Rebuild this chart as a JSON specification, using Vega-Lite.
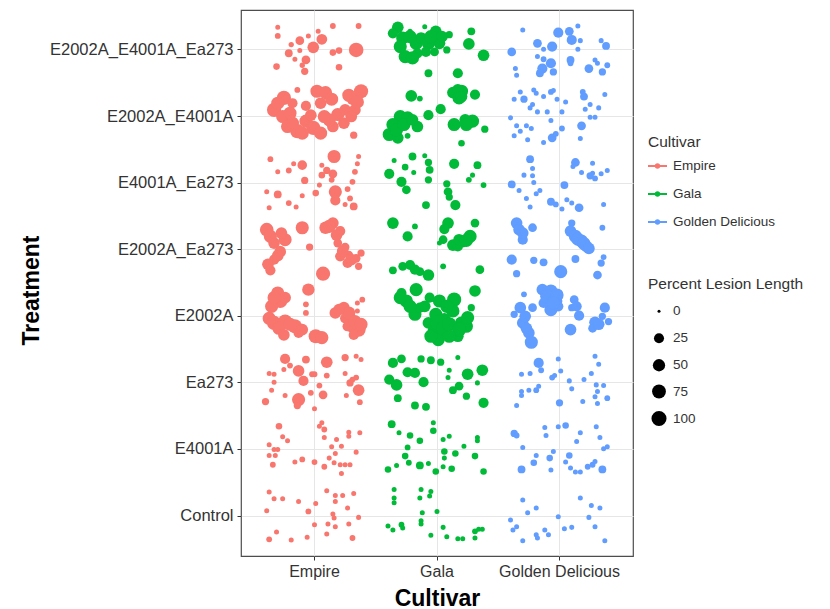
{
"$schema":"https://vega.github.io/schema/vega-lite/v6.json",
"width":392,"height":546,
"autosize":{"type":"none"},
"padding":{"left":241,"top":10,"right":197,"bottom":53},
"background":"white",
"config":{"font":"Liberation Sans","view":{"stroke":"#4d4d4d","strokeWidth":1.2}},
"datasets":{
"cult":[{"c":1,"Cultivar":"Empire"},{"c":2,"Cultivar":"Gala"},{"c":3,"Cultivar":"Golden Delicious"}],
"treat":[{"t":1,"Treatment":"E2002A_E4001A_Ea273"},{"t":2,"Treatment":"E2002A_E4001A"},{"t":3,"Treatment":"E4001A_Ea273"},{"t":4,"Treatment":"E2002A_Ea273"},{"t":5,"Treatment":"E2002A"},{"t":6,"Treatment":"Ea273"},{"t":7,"Treatment":"E4001A"},{"t":8,"Treatment":"Control"}],
"pts":[
{"c":1,"t":1,"x":-0.30,"y":-0.34,"v":1.5},{"c":1,"t":1,"x":-0.30,"y":-0.21,"v":3},{"c":1,"t":1,"x":0.15,"y":-0.36,"v":3},{"c":1,"t":1,"x":0.36,"y":-0.36,"v":3},{"c":1,"t":1,"x":-0.19,"y":-0.08,"v":2},{"c":1,"t":1,"x":-0.12,"y":-0.14,"v":15},{"c":1,"t":1,"x":-0.05,"y":-0.21,"v":1.5},{"c":1,"t":1,"x":-0.01,"y":-0.04,"v":42},{"c":1,"t":1,"x":0.06,"y":-0.16,"v":32},{"c":1,"t":1,"x":0.03,"y":-0.28,"v":1.5},{"c":1,"t":1,"x":-0.21,"y":0.05,"v":10},{"c":1,"t":1,"x":-0.16,"y":0.14,"v":1.5},{"c":1,"t":1,"x":-0.07,"y":0.15,"v":15},{"c":1,"t":1,"x":-0.10,"y":0.23,"v":2},{"c":1,"t":1,"x":-0.08,"y":0.32,"v":7.5},{"c":1,"t":1,"x":-0.31,"y":0.25,"v":5},{"c":1,"t":1,"x":0.15,"y":0.04,"v":5},{"c":1,"t":1,"x":0.20,"y":0.01,"v":5},{"c":1,"t":1,"x":0.20,"y":0.26,"v":5},{"c":1,"t":1,"x":0.34,"y":0,"v":90},{"c":1,"t":1,"x":-0.12,"y":0.01,"v":1.5},
{"c":1,"t":2,"x":-0.33,"y":-0.10,"v":82},{"c":1,"t":2,"x":-0.25,"y":-0.28,"v":82},{"c":1,"t":2,"x":-0.26,"y":0,"v":63},{"c":1,"t":2,"x":-0.18,"y":0.10,"v":63},{"c":1,"t":2,"x":-0.14,"y":0.22,"v":82},{"c":1,"t":2,"x":-0.07,"y":0.07,"v":63},{"c":1,"t":2,"x":-0.01,"y":0.17,"v":82},{"c":1,"t":2,"x":0.02,"y":-0.38,"v":63},{"c":1,"t":2,"x":0.09,"y":-0.36,"v":63},{"c":1,"t":2,"x":0.14,"y":-0.26,"v":63},{"c":1,"t":2,"x":0.08,"y":0,"v":63},{"c":1,"t":2,"x":0.19,"y":-0.03,"v":63},{"c":1,"t":2,"x":0.25,"y":-0.10,"v":42},{"c":1,"t":2,"x":0.31,"y":-0.26,"v":42},{"c":1,"t":2,"x":0.38,"y":-0.38,"v":82},{"c":1,"t":2,"x":0.33,"y":-0.10,"v":42},{"c":1,"t":2,"x":0.24,"y":0.10,"v":42},{"c":1,"t":2,"x":-0.07,"y":-0.16,"v":26},{"c":1,"t":2,"x":-0.14,"y":-0.40,"v":3},{"c":1,"t":2,"x":0.32,"y":0.28,"v":7.5},{"c":1,"t":2,"x":-0.18,"y":-0.20,"v":26},{"c":1,"t":2,"x":0.15,"y":0.15,"v":42},
{"c":1,"t":2,"x":-0.30,"y":-0.20,"v":63},{"c":1,"t":2,"x":-0.20,"y":-0.05,"v":63},{"c":1,"t":2,"x":-0.10,"y":0.25,"v":63},{"c":1,"t":2,"x":0.05,"y":0.25,"v":63},{"c":1,"t":2,"x":0.05,"y":-0.20,"v":42},{"c":1,"t":2,"x":0.28,"y":-0.32,"v":63},{"c":1,"t":2,"x":0.35,"y":-0.22,"v":63},{"c":1,"t":2,"x":0.30,"y":0,"v":42},{"c":1,"t":2,"x":-0.22,"y":0.15,"v":63},{"c":1,"t":2,"x":0.12,"y":0.05,"v":63},{"c":1,"t":2,"x":-0.03,"y":-0.02,"v":42},
{"c":1,"t":3,"x":-0.36,"y":-0.36,"v":3},{"c":1,"t":3,"x":-0.30,"y":-0.17,"v":1.5},{"c":1,"t":3,"x":-0.21,"y":-0.19,"v":3},{"c":1,"t":3,"x":-0.17,"y":-0.29,"v":1.5},{"c":1,"t":3,"x":-0.10,"y":-0.27,"v":21},{"c":1,"t":3,"x":-0.08,"y":-0.04,"v":7.5},{"c":1,"t":3,"x":-0.39,"y":0.13,"v":1.5},{"c":1,"t":3,"x":-0.30,"y":0.17,"v":10},{"c":1,"t":3,"x":-0.21,"y":0.30,"v":3},{"c":1,"t":3,"x":-0.37,"y":0.37,"v":1.5},{"c":1,"t":3,"x":-0.15,"y":0.36,"v":1.5},{"c":1,"t":3,"x":-0.10,"y":0.19,"v":1.5},{"c":1,"t":3,"x":0.01,"y":0.15,"v":5},{"c":1,"t":3,"x":0.04,"y":0.03,"v":1.5},{"c":1,"t":3,"x":0.06,"y":-0.12,"v":5},{"c":1,"t":3,"x":0.06,"y":-0.27,"v":1.5},{"c":1,"t":3,"x":0.10,"y":-0.19,"v":7.5},{"c":1,"t":3,"x":0.16,"y":-0.40,"v":63},{"c":1,"t":3,"x":0.14,"y":-0.05,"v":3},{"c":1,"t":3,"x":0.17,"y":0.13,"v":63},{"c":1,"t":3,"x":0.27,"y":0.09,"v":3},{"c":1,"t":3,"x":0.31,"y":-0.02,"v":3},{"c":1,"t":3,"x":0.33,"y":-0.17,"v":3},{"c":1,"t":3,"x":0.35,"y":-0.29,"v":1.5},{"c":1,"t":3,"x":0.36,"y":-0.40,"v":1.5},{"c":1,"t":3,"x":0.29,"y":0.23,"v":3},{"c":1,"t":3,"x":0.32,"y":0.35,"v":10},{"c":1,"t":3,"x":0.25,"y":0.32,"v":1.5},{"c":1,"t":3,"x":0.15,"y":-0.14,"v":15},{"c":1,"t":3,"x":0.17,"y":0.26,"v":26},
{"c":1,"t":4,"x":-0.39,"y":-0.30,"v":73},{"c":1,"t":4,"x":-0.33,"y":-0.10,"v":42},{"c":1,"t":4,"x":-0.24,"y":-0.15,"v":63},{"c":1,"t":4,"x":-0.28,"y":0.03,"v":42},{"c":1,"t":4,"x":-0.33,"y":0.15,"v":26},{"c":1,"t":4,"x":-0.36,"y":0.31,"v":26},{"c":1,"t":4,"x":-0.10,"y":-0.33,"v":63},{"c":1,"t":4,"x":-0.04,"y":-0.04,"v":7.5},{"c":1,"t":4,"x":0.09,"y":-0.33,"v":52},{"c":1,"t":4,"x":0.15,"y":-0.40,"v":42},{"c":1,"t":4,"x":0.21,"y":-0.28,"v":26},{"c":1,"t":4,"x":0.19,"y":-0.10,"v":15},{"c":1,"t":4,"x":0.25,"y":-0.04,"v":15},{"c":1,"t":4,"x":0.21,"y":0.10,"v":26},{"c":1,"t":4,"x":0.27,"y":0.20,"v":26},{"c":1,"t":4,"x":0.34,"y":0.13,"v":15},{"c":1,"t":4,"x":0.38,"y":0.05,"v":7.5},{"c":1,"t":4,"x":0.36,"y":0.25,"v":7.5},{"c":1,"t":4,"x":0.07,"y":0.36,"v":82},{"c":1,"t":4,"x":0.28,"y":0.08,"v":15},
{"c":1,"t":4,"x":-0.36,"y":-0.20,"v":63},{"c":1,"t":4,"x":-0.30,"y":0.09,"v":42},{"c":1,"t":4,"x":-0.38,"y":0.22,"v":42},{"c":1,"t":4,"x":0.12,"y":-0.35,"v":63},{"c":1,"t":4,"x":0.18,"y":-0.22,"v":42},{"c":1,"t":4,"x":0.23,"y":0.02,"v":42},{"c":1,"t":4,"x":0.30,"y":0.15,"v":42},{"c":1,"t":4,"x":-0.27,"y":-0.25,"v":42},
{"c":1,"t":5,"x":-0.30,"y":-0.35,"v":63},{"c":1,"t":5,"x":-0.28,"y":-0.23,"v":82},{"c":1,"t":5,"x":-0.35,"y":-0.15,"v":63},{"c":1,"t":5,"x":-0.24,"y":-0.28,"v":42},{"c":1,"t":5,"x":-0.33,"y":0.10,"v":82},{"c":1,"t":5,"x":-0.24,"y":0.08,"v":82},{"c":1,"t":5,"x":-0.16,"y":0.15,"v":82},{"c":1,"t":5,"x":-0.29,"y":0.18,"v":63},{"c":1,"t":5,"x":-0.13,"y":0.25,"v":26},{"c":1,"t":5,"x":-0.05,"y":-0.40,"v":52},{"c":1,"t":5,"x":-0.07,"y":-0.18,"v":3},{"c":1,"t":5,"x":-0.07,"y":-0.05,"v":3},{"c":1,"t":5,"x":0.01,"y":0.30,"v":82},{"c":1,"t":5,"x":0.17,"y":-0.05,"v":42},{"c":1,"t":5,"x":0.24,"y":-0.13,"v":42},{"c":1,"t":5,"x":0.25,"y":0.03,"v":26},{"c":1,"t":5,"x":0.31,"y":0.15,"v":63},{"c":1,"t":5,"x":0.36,"y":0.20,"v":82},{"c":1,"t":5,"x":0.32,"y":0.28,"v":26},{"c":1,"t":5,"x":0.39,"y":-0.25,"v":3},{"c":1,"t":5,"x":0.35,"y":-0.20,"v":1.5},{"c":1,"t":5,"x":0.35,"y":-0.08,"v":1.5},{"c":1,"t":5,"x":0.27,"y":0.15,"v":26},
{"c":1,"t":5,"x":-0.33,"y":-0.28,"v":63},{"c":1,"t":5,"x":-0.37,"y":0.03,"v":63},{"c":1,"t":5,"x":-0.20,"y":0.12,"v":63},{"c":1,"t":5,"x":-0.25,"y":0.28,"v":42},{"c":1,"t":5,"x":-0.10,"y":0.20,"v":42},{"c":1,"t":5,"x":0.28,"y":-0.05,"v":63},{"c":1,"t":5,"x":0.33,"y":0.08,"v":63},{"c":1,"t":5,"x":0.38,"y":0.12,"v":63},{"c":1,"t":5,"x":0.20,"y":-0.10,"v":42},{"c":1,"t":5,"x":0.06,"y":0.32,"v":63},
{"c":1,"t":6,"x":-0.24,"y":-0.36,"v":26},{"c":1,"t":6,"x":-0.25,"y":-0.20,"v":1.5},{"c":1,"t":6,"x":-0.20,"y":-0.26,"v":3},{"c":1,"t":6,"x":-0.13,"y":-0.18,"v":42},{"c":1,"t":6,"x":-0.09,"y":-0.03,"v":26},{"c":1,"t":6,"x":-0.07,"y":-0.35,"v":10},{"c":1,"t":6,"x":-0.02,"y":-0.13,"v":3},{"c":1,"t":6,"x":0,"y":-0.13,"v":3},{"c":1,"t":6,"x":0.10,"y":-0.31,"v":42},{"c":1,"t":6,"x":0.10,"y":-0.11,"v":3},{"c":1,"t":6,"x":0.04,"y":0.04,"v":3},{"c":1,"t":6,"x":0.07,"y":0.18,"v":15},{"c":1,"t":6,"x":-0.03,"y":0.15,"v":3},{"c":1,"t":6,"x":-0.13,"y":0.25,"v":63},{"c":1,"t":6,"x":-0.14,"y":0.34,"v":7.5},{"c":1,"t":6,"x":0,"y":0.39,"v":1.5},{"c":1,"t":6,"x":-0.37,"y":-0.14,"v":1.5},{"c":1,"t":6,"x":-0.33,"y":-0.13,"v":1.5},{"c":1,"t":6,"x":-0.33,"y":-0.01,"v":1.5},{"c":1,"t":6,"x":-0.35,"y":0.11,"v":1.5},{"c":1,"t":6,"x":-0.40,"y":0.28,"v":7.5},{"c":1,"t":6,"x":-0.24,"y":0.19,"v":1.5},{"c":1,"t":6,"x":0.25,"y":-0.38,"v":7.5},{"c":1,"t":6,"x":0.25,"y":-0.14,"v":1.5},{"c":1,"t":6,"x":0.34,"y":-0.40,"v":1.5},{"c":1,"t":6,"x":0.38,"y":-0.35,"v":1.5},{"c":1,"t":6,"x":0.29,"y":0,"v":7.5},{"c":1,"t":6,"x":0.34,"y":-0.08,"v":3},{"c":1,"t":6,"x":0.36,"y":0.11,"v":42},{"c":1,"t":6,"x":0.26,"y":0.19,"v":1.5},{"c":1,"t":6,"x":0.37,"y":0.29,"v":3},{"c":1,"t":6,"x":0.31,"y":-0.05,"v":3},
{"c":1,"t":7,"x":-0.29,"y":-0.35,"v":5},{"c":1,"t":7,"x":-0.26,"y":-0.19,"v":1.5},{"c":1,"t":7,"x":-0.22,"y":-0.13,"v":1.5},{"c":1,"t":7,"x":-0.37,"y":-0.07,"v":1.5},{"c":1,"t":7,"x":-0.33,"y":0,"v":1.5},{"c":1,"t":7,"x":-0.30,"y":0,"v":1.5},{"c":1,"t":7,"x":-0.37,"y":0.09,"v":1.5},{"c":1,"t":7,"x":-0.32,"y":0.09,"v":1.5},{"c":1,"t":7,"x":-0.34,"y":0.23,"v":3},{"c":1,"t":7,"x":-0.16,"y":0.19,"v":1.5},{"c":1,"t":7,"x":-0.10,"y":0.15,"v":3},{"c":1,"t":7,"x":0,"y":0.19,"v":3},{"c":1,"t":7,"x":0.08,"y":0.26,"v":3},{"c":1,"t":7,"x":0.04,"y":-0.35,"v":1.5},{"c":1,"t":7,"x":0.06,"y":-0.40,"v":1.5},{"c":1,"t":7,"x":0.08,"y":-0.30,"v":3},{"c":1,"t":7,"x":0.08,"y":-0.18,"v":1.5},{"c":1,"t":7,"x":0.14,"y":-0.04,"v":1.5},{"c":1,"t":7,"x":0.18,"y":-0.15,"v":1.5},{"c":1,"t":7,"x":0.22,"y":-0.05,"v":1.5},{"c":1,"t":7,"x":0.12,"y":0.13,"v":1.5},{"c":1,"t":7,"x":0.17,"y":0.06,"v":1.5},{"c":1,"t":7,"x":0.16,"y":0.20,"v":1.5},{"c":1,"t":7,"x":0.21,"y":0.23,"v":1.5},{"c":1,"t":7,"x":0.25,"y":0.23,"v":1.5},{"c":1,"t":7,"x":0.29,"y":0.23,"v":1.5},{"c":1,"t":7,"x":0.22,"y":0.36,"v":1.5},{"c":1,"t":7,"x":0.28,"y":-0.26,"v":1.5},{"c":1,"t":7,"x":0.28,"y":-0.20,"v":1.5},{"c":1,"t":7,"x":0.37,"y":-0.25,"v":1.5},{"c":1,"t":7,"x":0.34,"y":0.04,"v":1.5},
{"c":1,"t":8,"x":-0.37,"y":-0.36,"v":1.5},{"c":1,"t":8,"x":-0.33,"y":-0.26,"v":1.5},{"c":1,"t":8,"x":-0.26,"y":-0.26,"v":1.5},{"c":1,"t":8,"x":-0.39,"y":-0.08,"v":1.5},{"c":1,"t":8,"x":-0.13,"y":-0.22,"v":1.5},{"c":1,"t":8,"x":0.01,"y":-0.19,"v":1.5},{"c":1,"t":8,"x":-0.05,"y":-0.07,"v":3},{"c":1,"t":8,"x":0.10,"y":-0.38,"v":1.5},{"c":1,"t":8,"x":0.17,"y":-0.31,"v":1.5},{"c":1,"t":8,"x":0.17,"y":-0.22,"v":1.5},{"c":1,"t":8,"x":0.23,"y":-0.31,"v":1.5},{"c":1,"t":8,"x":0.32,"y":-0.34,"v":1.5},{"c":1,"t":8,"x":0.27,"y":-0.12,"v":1.5},{"c":1,"t":8,"x":0.15,"y":-0.03,"v":1.5},{"c":1,"t":8,"x":0.16,"y":0.03,"v":1.5},{"c":1,"t":8,"x":0.36,"y":0.02,"v":1.5},{"c":1,"t":8,"x":0,"y":0.13,"v":1.5},{"c":1,"t":8,"x":0.11,"y":0.12,"v":1.5},{"c":1,"t":8,"x":0.17,"y":0.16,"v":1.5},{"c":1,"t":8,"x":0.28,"y":0.12,"v":1.5},{"c":1,"t":8,"x":0.10,"y":0.27,"v":1.5},{"c":1,"t":8,"x":-0.31,"y":0.24,"v":1.5},{"c":1,"t":8,"x":-0.37,"y":0.35,"v":3},{"c":1,"t":8,"x":-0.19,"y":0.36,"v":1.5},{"c":1,"t":8,"x":-0.06,"y":0.32,"v":1.5},{"c":1,"t":8,"x":0.31,"y":0.33,"v":3},
{"c":2,"t":1,"x":-0.32,"y":-0.34,"v":42},{"c":2,"t":1,"x":-0.36,"y":-0.25,"v":26},{"c":2,"t":1,"x":-0.28,"y":-0.18,"v":63},{"c":2,"t":1,"x":-0.26,"y":0.10,"v":63},{"c":2,"t":1,"x":-0.22,"y":-0.28,"v":1.5},{"c":2,"t":1,"x":-0.17,"y":-0.10,"v":63},{"c":2,"t":1,"x":-0.13,"y":-0.18,"v":42},{"c":2,"t":1,"x":-0.10,"y":-0.35,"v":1.5},{"c":2,"t":1,"x":-0.07,"y":-0.10,"v":63},{"c":2,"t":1,"x":-0.01,"y":-0.28,"v":42},{"c":2,"t":1,"x":0.02,"y":-0.10,"v":42},{"c":2,"t":1,"x":-0.02,"y":0.03,"v":15},{"c":2,"t":1,"x":-0.09,"y":0.03,"v":26},{"c":2,"t":1,"x":0.10,"y":-0.23,"v":7.5},{"c":2,"t":1,"x":0.08,"y":0,"v":7.5},{"c":2,"t":1,"x":0.28,"y":-0.28,"v":10},{"c":2,"t":1,"x":0.26,"y":-0.09,"v":42},{"c":2,"t":1,"x":0.38,"y":0.08,"v":42},{"c":2,"t":1,"x":-0.16,"y":0.05,"v":26},{"c":2,"t":1,"x":-0.07,"y":0.35,"v":10},{"c":2,"t":1,"x":0.17,"y":0.35,"v":26},
{"c":2,"t":1,"x":-0.30,"y":-0.05,"v":63},{"c":2,"t":1,"x":-0.22,"y":-0.20,"v":63},{"c":2,"t":1,"x":-0.05,"y":-0.20,"v":63},{"c":2,"t":1,"x":0.04,"y":-0.20,"v":42},{"c":2,"t":1,"x":-0.20,"y":0.12,"v":63},
{"c":2,"t":2,"x":0.13,"y":-0.36,"v":42},{"c":2,"t":2,"x":0.20,"y":-0.38,"v":63},{"c":2,"t":2,"x":0.17,"y":-0.40,"v":42},{"c":2,"t":2,"x":0.31,"y":-0.33,"v":26},{"c":2,"t":2,"x":-0.21,"y":-0.31,"v":42},{"c":2,"t":2,"x":-0.14,"y":-0.27,"v":3},{"c":2,"t":2,"x":-0.30,"y":0,"v":63},{"c":2,"t":2,"x":-0.36,"y":0.12,"v":63},{"c":2,"t":2,"x":-0.39,"y":0.27,"v":63},{"c":2,"t":2,"x":-0.32,"y":0.32,"v":42},{"c":2,"t":2,"x":-0.24,"y":0.02,"v":63},{"c":2,"t":2,"x":-0.16,"y":0.15,"v":42},{"c":2,"t":2,"x":-0.24,"y":0.29,"v":3},{"c":2,"t":2,"x":-0.07,"y":-0.02,"v":26},{"c":2,"t":2,"x":0.03,"y":-0.11,"v":26},{"c":2,"t":2,"x":0.14,"y":0.12,"v":63},{"c":2,"t":2,"x":0.29,"y":0.07,"v":63},{"c":2,"t":2,"x":0.39,"y":0.19,"v":7.5},{"c":2,"t":2,"x":0.20,"y":0.40,"v":5},{"c":2,"t":2,"x":0.23,"y":0.05,"v":42},
{"c":2,"t":2,"x":-0.33,"y":0.20,"v":63},{"c":2,"t":2,"x":-0.27,"y":0.12,"v":63},{"c":2,"t":2,"x":-0.20,"y":0.05,"v":42},{"c":2,"t":2,"x":0.18,"y":-0.28,"v":63},{"c":2,"t":2,"x":0.24,"y":0.12,"v":63},{"c":2,"t":2,"x":0.20,"y":-0.30,"v":42},
{"c":2,"t":3,"x":-0.35,"y":-0.34,"v":1.5},{"c":2,"t":3,"x":-0.26,"y":-0.24,"v":5},{"c":2,"t":3,"x":-0.20,"y":-0.40,"v":10},{"c":2,"t":3,"x":-0.19,"y":-0.16,"v":1.5},{"c":2,"t":3,"x":-0.10,"y":-0.41,"v":1.5},{"c":2,"t":3,"x":-0.07,"y":-0.31,"v":7.5},{"c":2,"t":3,"x":-0.06,"y":-0.20,"v":10},{"c":2,"t":3,"x":-0.39,"y":-0.14,"v":26},{"c":2,"t":3,"x":-0.29,"y":-0.02,"v":26},{"c":2,"t":3,"x":-0.25,"y":0.10,"v":15},{"c":2,"t":3,"x":-0.07,"y":-0.05,"v":7.5},{"c":2,"t":3,"x":0.14,"y":-0.29,"v":26},{"c":2,"t":3,"x":0.33,"y":-0.27,"v":10},{"c":2,"t":3,"x":0.29,"y":-0.12,"v":1.5},{"c":2,"t":3,"x":0.26,"y":-0.05,"v":3},{"c":2,"t":3,"x":0.38,"y":0.03,"v":3},{"c":2,"t":3,"x":0.08,"y":0.01,"v":7.5},{"c":2,"t":3,"x":0.09,"y":0.13,"v":15},{"c":2,"t":3,"x":0.10,"y":0.21,"v":7.5},{"c":2,"t":3,"x":-0.09,"y":0.33,"v":10},{"c":2,"t":3,"x":0.15,"y":0.33,"v":26},
{"c":2,"t":4,"x":-0.36,"y":-0.40,"v":42},{"c":2,"t":4,"x":-0.24,"y":-0.20,"v":26},{"c":2,"t":4,"x":-0.18,"y":-0.35,"v":3},{"c":2,"t":4,"x":0.09,"y":-0.40,"v":42},{"c":2,"t":4,"x":0.06,"y":-0.31,"v":26},{"c":2,"t":4,"x":0.05,"y":-0.15,"v":15},{"c":2,"t":4,"x":0.02,"y":-0.10,"v":1.5},{"c":2,"t":4,"x":0.13,"y":-0.07,"v":42},{"c":2,"t":4,"x":0.21,"y":-0.12,"v":42},{"c":2,"t":4,"x":0.27,"y":-0.20,"v":63},{"c":2,"t":4,"x":0.31,"y":-0.40,"v":15},{"c":2,"t":4,"x":0.17,"y":-0.05,"v":26},{"c":2,"t":4,"x":-0.36,"y":0.31,"v":10},{"c":2,"t":4,"x":-0.28,"y":0.25,"v":15},{"c":2,"t":4,"x":-0.22,"y":0.23,"v":26},{"c":2,"t":4,"x":-0.14,"y":0.33,"v":15},{"c":2,"t":4,"x":-0.07,"y":0.38,"v":42},{"c":2,"t":4,"x":0.05,"y":0.25,"v":3},{"c":2,"t":4,"x":0.35,"y":0.30,"v":15},
{"c":2,"t":4,"x":0.18,"y":-0.15,"v":42},{"c":2,"t":4,"x":0.24,"y":-0.14,"v":63},{"c":2,"t":4,"x":-0.18,"y":0.30,"v":26},
{"c":2,"t":5,"x":-0.29,"y":-0.35,"v":26},{"c":2,"t":5,"x":-0.25,"y":-0.23,"v":63},{"c":2,"t":5,"x":-0.17,"y":-0.40,"v":63},{"c":2,"t":5,"x":-0.18,"y":-0.03,"v":63},{"c":2,"t":5,"x":-0.14,"y":-0.13,"v":26},{"c":2,"t":5,"x":0.02,"y":-0.23,"v":63},{"c":2,"t":5,"x":0.14,"y":-0.25,"v":82},{"c":2,"t":5,"x":0.13,"y":-0.08,"v":63},{"c":2,"t":5,"x":-0.01,"y":-0.03,"v":63},{"c":2,"t":5,"x":-0.02,"y":0.23,"v":82},{"c":2,"t":5,"x":0.06,"y":0.25,"v":63},{"c":2,"t":5,"x":0.01,"y":0.35,"v":63},{"c":2,"t":5,"x":0.20,"y":0.10,"v":63},{"c":2,"t":5,"x":0.24,"y":0.15,"v":63},{"c":2,"t":5,"x":0.17,"y":0.30,"v":42},{"c":2,"t":5,"x":0.28,"y":-0.13,"v":7.5},{"c":2,"t":5,"x":0.31,"y":-0.38,"v":42},{"c":2,"t":5,"x":-0.07,"y":0.10,"v":42},{"c":2,"t":5,"x":0.06,"y":0.05,"v":63},{"c":2,"t":5,"x":-0.06,"y":-0.28,"v":26},
{"c":2,"t":5,"x":-0.30,"y":-0.28,"v":63},{"c":2,"t":5,"x":-0.22,"y":-0.15,"v":63},{"c":2,"t":5,"x":0,"y":0.10,"v":82},{"c":2,"t":5,"x":0.05,"y":0.18,"v":82},{"c":2,"t":5,"x":0.10,"y":0.12,"v":82},{"c":2,"t":5,"x":0.18,"y":0.20,"v":82},{"c":2,"t":5,"x":0.10,"y":0.30,"v":63},{"c":2,"t":5,"x":-0.05,"y":0.30,"v":63},{"c":2,"t":5,"x":0.25,"y":0.02,"v":63},{"c":2,"t":5,"x":0.08,"y":-0.15,"v":63},{"c":2,"t":5,"x":-0.10,"y":-0.15,"v":42},
{"c":2,"t":6,"x":-0.36,"y":-0.30,"v":26},{"c":2,"t":6,"x":-0.29,"y":-0.36,"v":15},{"c":2,"t":6,"x":-0.13,"y":-0.36,"v":7.5},{"c":2,"t":6,"x":-0.05,"y":-0.34,"v":10},{"c":2,"t":6,"x":0.03,"y":-0.31,"v":7.5},{"c":2,"t":6,"x":0.17,"y":-0.38,"v":1.5},{"c":2,"t":6,"x":-0.39,"y":-0.05,"v":26},{"c":2,"t":6,"x":-0.33,"y":0.03,"v":42},{"c":2,"t":6,"x":-0.24,"y":-0.16,"v":26},{"c":2,"t":6,"x":-0.18,"y":-0.15,"v":26},{"c":2,"t":6,"x":-0.11,"y":-0.01,"v":26},{"c":2,"t":6,"x":0.10,"y":-0.19,"v":1.5},{"c":2,"t":6,"x":0.09,"y":-0.08,"v":1.5},{"c":2,"t":6,"x":0.25,"y":-0.13,"v":42},{"c":2,"t":6,"x":0.37,"y":-0.19,"v":42},{"c":2,"t":6,"x":0.33,"y":0,"v":1.5},{"c":2,"t":6,"x":0.18,"y":0.05,"v":15},{"c":2,"t":6,"x":0.13,"y":0.11,"v":10},{"c":2,"t":6,"x":0.24,"y":0.20,"v":7.5},{"c":2,"t":6,"x":-0.32,"y":0.23,"v":10},{"c":2,"t":6,"x":-0.18,"y":0.34,"v":10},{"c":2,"t":6,"x":-0.09,"y":0.36,"v":10},{"c":2,"t":6,"x":0.38,"y":0.30,"v":26},
{"c":2,"t":7,"x":-0.37,"y":-0.38,"v":10},{"c":2,"t":7,"x":-0.31,"y":-0.25,"v":1.5},{"c":2,"t":7,"x":-0.22,"y":-0.21,"v":5},{"c":2,"t":7,"x":-0.14,"y":-0.13,"v":5},{"c":2,"t":7,"x":-0.03,"y":-0.40,"v":1.5},{"c":2,"t":7,"x":-0.03,"y":-0.28,"v":5},{"c":2,"t":7,"x":0.05,"y":-0.15,"v":1.5},{"c":2,"t":7,"x":0.10,"y":-0.20,"v":1.5},{"c":2,"t":7,"x":0.33,"y":-0.18,"v":1.5},{"c":2,"t":7,"x":0.33,"y":-0.13,"v":1.5},{"c":2,"t":7,"x":0.22,"y":-0.05,"v":1.5},{"c":2,"t":7,"x":-0.24,"y":-0.03,"v":3},{"c":2,"t":7,"x":-0.26,"y":0.10,"v":5},{"c":2,"t":7,"x":-0.23,"y":0.20,"v":3},{"c":2,"t":7,"x":-0.14,"y":0.24,"v":10},{"c":2,"t":7,"x":-0.07,"y":0.21,"v":1.5},{"c":2,"t":7,"x":0.06,"y":0.03,"v":5},{"c":2,"t":7,"x":0.06,"y":0.13,"v":1.5},{"c":2,"t":7,"x":0.15,"y":0.06,"v":5},{"c":2,"t":7,"x":0.31,"y":0.10,"v":5},{"c":2,"t":7,"x":-0.40,"y":0.30,"v":5},{"c":2,"t":7,"x":-0.33,"y":0.24,"v":1.5},{"c":2,"t":7,"x":-0.01,"y":0.33,"v":5},{"c":2,"t":7,"x":0.05,"y":0.26,"v":1.5},{"c":2,"t":7,"x":0.12,"y":0.29,"v":5},{"c":2,"t":7,"x":0.38,"y":0.33,"v":5},
{"c":2,"t":8,"x":-0.35,"y":-0.40,"v":1.5},{"c":2,"t":8,"x":-0.35,"y":-0.27,"v":1.5},{"c":2,"t":8,"x":-0.35,"y":-0.20,"v":1.5},{"c":2,"t":8,"x":-0.13,"y":-0.40,"v":1.5},{"c":2,"t":8,"x":-0.05,"y":-0.37,"v":1.5},{"c":2,"t":8,"x":-0.14,"y":-0.27,"v":1.5},{"c":2,"t":8,"x":-0.06,"y":-0.30,"v":1.5},{"c":2,"t":8,"x":-0.12,"y":-0.05,"v":1.5},{"c":2,"t":8,"x":-0.13,"y":0.07,"v":1.5},{"c":2,"t":8,"x":-0.13,"y":0.12,"v":1.5},{"c":2,"t":8,"x":0,"y":-0.07,"v":1.5},{"c":2,"t":8,"x":-0.40,"y":0.15,"v":1.5},{"c":2,"t":8,"x":-0.36,"y":0.21,"v":1.5},{"c":2,"t":8,"x":-0.29,"y":0.13,"v":3},{"c":2,"t":8,"x":-0.28,"y":0.18,"v":1.5},{"c":2,"t":8,"x":-0.05,"y":0.29,"v":1.5},{"c":2,"t":8,"x":0.05,"y":0.17,"v":1.5},{"c":2,"t":8,"x":0.08,"y":0.31,"v":1.5},{"c":2,"t":8,"x":0.17,"y":0.34,"v":1.5},{"c":2,"t":8,"x":0.21,"y":0.34,"v":1.5},{"c":2,"t":8,"x":0.31,"y":0.23,"v":3},{"c":2,"t":8,"x":0.34,"y":0.20,"v":1.5},{"c":2,"t":8,"x":0.31,"y":0.33,"v":1.5},{"c":2,"t":8,"x":0.37,"y":0.20,"v":1.5},
{"c":3,"t":1,"x":-0.30,"y":-0.30,"v":1.5},{"c":3,"t":1,"x":-0.01,"y":-0.26,"v":26},{"c":3,"t":1,"x":0.08,"y":-0.28,"v":15},{"c":3,"t":1,"x":0.10,"y":-0.15,"v":26},{"c":3,"t":1,"x":0.15,"y":-0.36,"v":1.5},{"c":3,"t":1,"x":0.17,"y":-0.14,"v":1.5},{"c":3,"t":1,"x":-0.18,"y":-0.10,"v":15},{"c":3,"t":1,"x":-0.06,"y":-0.05,"v":26},{"c":3,"t":1,"x":-0.13,"y":-0.01,"v":1.5},{"c":3,"t":1,"x":-0.39,"y":0.03,"v":15},{"c":3,"t":1,"x":0.15,"y":-0.01,"v":1.5},{"c":3,"t":1,"x":0.34,"y":-0.14,"v":1.5},{"c":3,"t":1,"x":0.38,"y":-0.06,"v":10},{"c":3,"t":1,"x":-0.18,"y":0.10,"v":1.5},{"c":3,"t":1,"x":-0.13,"y":0.14,"v":3},{"c":3,"t":1,"x":-0.07,"y":0.20,"v":26},{"c":3,"t":1,"x":-0.14,"y":0.28,"v":26},{"c":3,"t":1,"x":-0.16,"y":0.35,"v":10},{"c":3,"t":1,"x":-0.05,"y":0.33,"v":7.5},{"c":3,"t":1,"x":0.09,"y":0.15,"v":10},{"c":3,"t":1,"x":0.09,"y":0.20,"v":3},{"c":3,"t":1,"x":0.24,"y":0.28,"v":15},{"c":3,"t":1,"x":0.29,"y":0.15,"v":1.5},{"c":3,"t":1,"x":0.31,"y":0.20,"v":1.5},{"c":3,"t":1,"x":0.39,"y":0.23,"v":3},{"c":3,"t":1,"x":0.35,"y":0.33,"v":7.5},{"c":3,"t":1,"x":-0.36,"y":0.28,"v":1.5},{"c":3,"t":1,"x":-0.35,"y":0.38,"v":1.5},
{"c":3,"t":2,"x":-0.32,"y":-0.37,"v":1.5},{"c":3,"t":2,"x":-0.37,"y":-0.26,"v":1.5},{"c":3,"t":2,"x":-0.29,"y":-0.26,"v":7.5},{"c":3,"t":2,"x":-0.21,"y":-0.40,"v":1.5},{"c":3,"t":2,"x":-0.19,"y":-0.35,"v":1.5},{"c":3,"t":2,"x":-0.22,"y":-0.18,"v":1.5},{"c":3,"t":2,"x":-0.24,"y":-0.13,"v":1.5},{"c":3,"t":2,"x":-0.18,"y":-0.07,"v":1.5},{"c":3,"t":2,"x":-0.13,"y":-0.30,"v":1.5},{"c":3,"t":2,"x":-0.07,"y":-0.37,"v":3},{"c":3,"t":2,"x":-0.05,"y":-0.39,"v":1.5},{"c":3,"t":2,"x":-0.10,"y":-0.07,"v":1.5},{"c":3,"t":2,"x":-0.02,"y":-0.26,"v":1.5},{"c":3,"t":2,"x":0.02,"y":-0.07,"v":1.5},{"c":3,"t":2,"x":0.05,"y":-0.22,"v":1.5},{"c":3,"t":2,"x":0.19,"y":-0.37,"v":3},{"c":3,"t":2,"x":0.20,"y":-0.30,"v":10},{"c":3,"t":2,"x":0.25,"y":-0.18,"v":1.5},{"c":3,"t":2,"x":0.21,"y":-0.11,"v":1.5},{"c":3,"t":2,"x":0.32,"y":-0.13,"v":1.5},{"c":3,"t":2,"x":0.37,"y":-0.33,"v":1.5},{"c":3,"t":2,"x":0.25,"y":0.01,"v":1.5},{"c":3,"t":2,"x":0.29,"y":0.01,"v":1.5},{"c":3,"t":2,"x":-0.40,"y":0.02,"v":1.5},{"c":3,"t":2,"x":-0.35,"y":0.14,"v":1.5},{"c":3,"t":2,"x":-0.27,"y":0.14,"v":1.5},{"c":3,"t":2,"x":-0.23,"y":0.18,"v":1.5},{"c":3,"t":2,"x":-0.32,"y":0.22,"v":1.5},{"c":3,"t":2,"x":-0.37,"y":0.29,"v":1.5},{"c":3,"t":2,"x":-0.26,"y":0.35,"v":1.5},{"c":3,"t":2,"x":-0.07,"y":0.06,"v":1.5},{"c":3,"t":2,"x":0.02,"y":0.18,"v":3},{"c":3,"t":2,"x":0.18,"y":0.14,"v":15},{"c":3,"t":2,"x":0.17,"y":0.33,"v":1.5},{"c":3,"t":2,"x":-0.06,"y":0.32,"v":15},{"c":3,"t":2,"x":-0.03,"y":0.26,"v":3},{"c":3,"t":2,"x":-0.13,"y":0.39,"v":1.5},
{"c":3,"t":3,"x":-0.24,"y":-0.36,"v":10},{"c":3,"t":3,"x":-0.22,"y":-0.22,"v":1.5},{"c":3,"t":3,"x":-0.22,"y":-0.11,"v":1.5},{"c":3,"t":3,"x":-0.29,"y":-0.12,"v":1.5},{"c":3,"t":3,"x":-0.21,"y":-0.01,"v":1.5},{"c":3,"t":3,"x":-0.39,"y":0.02,"v":10},{"c":3,"t":3,"x":-0.33,"y":0.11,"v":1.5},{"c":3,"t":3,"x":-0.19,"y":0.16,"v":1.5},{"c":3,"t":3,"x":-0.16,"y":0.11,"v":1.5},{"c":3,"t":3,"x":-0.27,"y":0.23,"v":1.5},{"c":3,"t":3,"x":-0.24,"y":0.36,"v":1.5},{"c":3,"t":3,"x":0.04,"y":0.03,"v":10},{"c":3,"t":3,"x":-0.07,"y":0.28,"v":10},{"c":3,"t":3,"x":-0.03,"y":0.32,"v":3},{"c":3,"t":3,"x":0.02,"y":0.39,"v":1.5},{"c":3,"t":3,"x":0.06,"y":0.25,"v":1.5},{"c":3,"t":3,"x":0.10,"y":0.30,"v":1.5},{"c":3,"t":3,"x":0.16,"y":0.37,"v":15},{"c":3,"t":3,"x":0.13,"y":-0.31,"v":15},{"c":3,"t":3,"x":0.11,"y":-0.25,"v":1.5},{"c":3,"t":3,"x":0.18,"y":-0.16,"v":1.5},{"c":3,"t":3,"x":0.27,"y":-0.30,"v":1.5},{"c":3,"t":3,"x":0.27,"y":-0.15,"v":1.5},{"c":3,"t":3,"x":0.25,"y":-0.11,"v":7.5},{"c":3,"t":3,"x":0.29,"y":-0.07,"v":3},{"c":3,"t":3,"x":0.34,"y":-0.14,"v":1.5},{"c":3,"t":3,"x":0.39,"y":-0.19,"v":1.5},{"c":3,"t":3,"x":0.36,"y":0.32,"v":1.5},
{"c":3,"t":4,"x":-0.35,"y":-0.40,"v":42},{"c":3,"t":4,"x":-0.33,"y":-0.30,"v":42},{"c":3,"t":4,"x":-0.22,"y":-0.33,"v":15},{"c":3,"t":4,"x":-0.30,"y":-0.15,"v":26},{"c":3,"t":4,"x":0.10,"y":-0.40,"v":7.5},{"c":3,"t":4,"x":0.09,"y":-0.28,"v":42},{"c":3,"t":4,"x":0.13,"y":-0.20,"v":63},{"c":3,"t":4,"x":0.18,"y":-0.13,"v":63},{"c":3,"t":4,"x":0.22,"y":-0.05,"v":42},{"c":3,"t":4,"x":0.35,"y":-0.33,"v":3},{"c":3,"t":4,"x":-0.39,"y":0.15,"v":26},{"c":3,"t":4,"x":-0.35,"y":0.36,"v":7.5},{"c":3,"t":4,"x":-0.21,"y":0.16,"v":7.5},{"c":3,"t":4,"x":-0.13,"y":0.19,"v":10},{"c":3,"t":4,"x":0.01,"y":0.33,"v":63},{"c":3,"t":4,"x":0.13,"y":0.14,"v":10},{"c":3,"t":4,"x":0.36,"y":0.11,"v":3},{"c":3,"t":4,"x":0.34,"y":0.20,"v":7.5},{"c":3,"t":4,"x":0.31,"y":0.38,"v":15},
{"c":3,"t":4,"x":0.15,"y":-0.16,"v":63},{"c":3,"t":4,"x":0.20,"y":-0.09,"v":63},{"c":3,"t":4,"x":0.24,"y":-0.02,"v":42},{"c":3,"t":4,"x":-0.30,"y":-0.25,"v":42},
{"c":3,"t":5,"x":-0.29,"y":-0.33,"v":3},{"c":3,"t":5,"x":-0.14,"y":-0.40,"v":42},{"c":3,"t":5,"x":-0.07,"y":-0.38,"v":63},{"c":3,"t":5,"x":-0.03,"y":-0.23,"v":63},{"c":3,"t":5,"x":-0.07,"y":-0.10,"v":63},{"c":3,"t":5,"x":-0.01,"y":-0.15,"v":26},{"c":3,"t":5,"x":-0.32,"y":-0.13,"v":42},{"c":3,"t":5,"x":-0.37,"y":-0.03,"v":7.5},{"c":3,"t":5,"x":-0.22,"y":-0.13,"v":15},{"c":3,"t":5,"x":-0.30,"y":0.10,"v":42},{"c":3,"t":5,"x":-0.25,"y":0.25,"v":42},{"c":3,"t":5,"x":-0.23,"y":0.39,"v":63},{"c":3,"t":5,"x":0.12,"y":-0.25,"v":15},{"c":3,"t":5,"x":0.10,"y":-0.13,"v":7.5},{"c":3,"t":5,"x":0.16,"y":-0.01,"v":26},{"c":3,"t":5,"x":0.09,"y":0.20,"v":42},{"c":3,"t":5,"x":0.37,"y":-0.13,"v":26},{"c":3,"t":5,"x":0.35,"y":0,"v":7.5},{"c":3,"t":5,"x":0.29,"y":0.09,"v":42},{"c":3,"t":5,"x":0.27,"y":0.18,"v":15},{"c":3,"t":5,"x":0.40,"y":0.08,"v":7.5},{"c":3,"t":5,"x":-0.13,"y":-0.20,"v":26},
{"c":3,"t":5,"x":-0.10,"y":-0.30,"v":82},{"c":3,"t":5,"x":-0.02,"y":-0.32,"v":63},{"c":3,"t":5,"x":-0.05,"y":-0.20,"v":63},{"c":3,"t":5,"x":-0.28,"y":0,"v":42},{"c":3,"t":5,"x":-0.27,"y":0.18,"v":42},{"c":3,"t":5,"x":0.32,"y":0.12,"v":42},{"c":3,"t":5,"x":0.14,"y":-0.15,"v":26},
{"c":3,"t":6,"x":-0.17,"y":-0.30,"v":26},{"c":3,"t":6,"x":-0.15,"y":-0.19,"v":3},{"c":3,"t":6,"x":-0.31,"y":-0.13,"v":1.5},{"c":3,"t":6,"x":-0.24,"y":-0.14,"v":1.5},{"c":3,"t":6,"x":-0.31,"y":0.13,"v":1.5},{"c":3,"t":6,"x":-0.31,"y":0.19,"v":1.5},{"c":3,"t":6,"x":-0.35,"y":0.34,"v":1.5},{"c":3,"t":6,"x":-0.25,"y":0.11,"v":1.5},{"c":3,"t":6,"x":-0.19,"y":0.11,"v":3},{"c":3,"t":6,"x":-0.17,"y":0.05,"v":1.5},{"c":3,"t":6,"x":-0.06,"y":-0.08,"v":3},{"c":3,"t":6,"x":-0.04,"y":-0.11,"v":1.5},{"c":3,"t":6,"x":-0.01,"y":-0.36,"v":1.5},{"c":3,"t":6,"x":0.01,"y":-0.18,"v":1.5},{"c":3,"t":6,"x":0,"y":0.30,"v":7.5},{"c":3,"t":6,"x":0.08,"y":-0.03,"v":1.5},{"c":3,"t":6,"x":0.10,"y":0.09,"v":1.5},{"c":3,"t":6,"x":0.19,"y":0.28,"v":1.5},{"c":3,"t":6,"x":0.20,"y":-0.05,"v":1.5},{"c":3,"t":6,"x":0.29,"y":-0.40,"v":1.5},{"c":3,"t":6,"x":0.32,"y":-0.28,"v":1.5},{"c":3,"t":6,"x":0.26,"y":-0.14,"v":1.5},{"c":3,"t":6,"x":0.30,"y":0.03,"v":1.5},{"c":3,"t":6,"x":0.31,"y":0.13,"v":1.5},{"c":3,"t":6,"x":0.29,"y":0.21,"v":1.5},{"c":3,"t":6,"x":0.31,"y":0.31,"v":1.5},{"c":3,"t":6,"x":0.36,"y":0.04,"v":1.5},{"c":3,"t":6,"x":0.39,"y":0.23,"v":3},
{"c":3,"t":7,"x":-0.37,"y":-0.24,"v":7.5},{"c":3,"t":7,"x":-0.35,"y":-0.21,"v":3},{"c":3,"t":7,"x":-0.30,"y":-0.03,"v":1.5},{"c":3,"t":7,"x":-0.12,"y":-0.33,"v":1.5},{"c":3,"t":7,"x":-0.11,"y":-0.21,"v":1.5},{"c":3,"t":7,"x":-0.01,"y":-0.34,"v":1.5},{"c":3,"t":7,"x":0.05,"y":-0.36,"v":5},{"c":3,"t":7,"x":0.17,"y":-0.25,"v":1.5},{"c":3,"t":7,"x":0.14,"y":-0.12,"v":1.5},{"c":3,"t":7,"x":0.30,"y":-0.34,"v":1.5},{"c":3,"t":7,"x":0.33,"y":-0.18,"v":1.5},{"c":3,"t":7,"x":-0.05,"y":0.03,"v":1.5},{"c":3,"t":7,"x":-0.19,"y":0.09,"v":1.5},{"c":3,"t":7,"x":-0.21,"y":0.20,"v":5},{"c":3,"t":7,"x":-0.08,"y":0.13,"v":5},{"c":3,"t":7,"x":0.08,"y":0.09,"v":5},{"c":3,"t":7,"x":0.05,"y":0.19,"v":1.5},{"c":3,"t":7,"x":-0.31,"y":0.30,"v":10},{"c":3,"t":7,"x":-0.07,"y":0.31,"v":1.5},{"c":3,"t":7,"x":0.09,"y":0.28,"v":1.5},{"c":3,"t":7,"x":0.13,"y":0.34,"v":1.5},{"c":3,"t":7,"x":0.17,"y":0.34,"v":1.5},{"c":3,"t":7,"x":0.23,"y":0.26,"v":3},{"c":3,"t":7,"x":0.27,"y":0.23,"v":3},{"c":3,"t":7,"x":0.29,"y":0.18,"v":1.5},{"c":3,"t":7,"x":0.35,"y":0.30,"v":10},{"c":3,"t":7,"x":0.36,"y":-0.01,"v":1.5},{"c":3,"t":7,"x":0.39,"y":-0.04,"v":1.5},
{"c":3,"t":8,"x":-0.30,"y":-0.24,"v":1.5},{"c":3,"t":8,"x":-0.26,"y":-0.05,"v":1.5},{"c":3,"t":8,"x":-0.19,"y":-0.12,"v":1.5},{"c":3,"t":8,"x":0.17,"y":-0.27,"v":1.5},{"c":3,"t":8,"x":0.26,"y":-0.16,"v":1.5},{"c":3,"t":8,"x":0.33,"y":-0.12,"v":1.5},{"c":3,"t":8,"x":0.24,"y":0.02,"v":1.5},{"c":3,"t":8,"x":-0.01,"y":0.01,"v":1.5},{"c":3,"t":8,"x":-0.40,"y":0.06,"v":1.5},{"c":3,"t":8,"x":-0.35,"y":0.16,"v":1.5},{"c":3,"t":8,"x":-0.38,"y":0.21,"v":1.5},{"c":3,"t":8,"x":-0.30,"y":0.37,"v":1.5},{"c":3,"t":8,"x":-0.19,"y":0.28,"v":1.5},{"c":3,"t":8,"x":-0.18,"y":0.33,"v":1.5},{"c":3,"t":8,"x":-0.12,"y":0.21,"v":1.5},{"c":3,"t":8,"x":-0.09,"y":0.28,"v":1.5},{"c":3,"t":8,"x":0.04,"y":0.19,"v":1.5},{"c":3,"t":8,"x":0.10,"y":0.17,"v":1.5},{"c":3,"t":8,"x":0.29,"y":0.16,"v":1.5},{"c":3,"t":8,"x":0.37,"y":0.37,"v":1.5}
]},
"data":{"name":"pts"},
"transform":[
{"lookup":"c","from":{"data":{"name":"cult"},"key":"c","fields":["Cultivar"]}},
{"lookup":"t","from":{"data":{"name":"treat"},"key":"t","fields":["Treatment"]}}
],
"mark":{"type":"point","filled":true,"opacity":1,"strokeWidth":0},
"encoding":{
"x":{"field":"Cultivar","type":"nominal","sort":["Empire","Gala","Golden Delicious"],"scale":{"type":"band","paddingInner":0,"paddingOuter":0.1},
 "axis":{"title":"Cultivar","titleFontSize":23,"titleFontWeight":"bold","titleColor":"black","titleBaseline":"alphabetic","titleY":49,"labelFontSize":16,"labelColor":"#333333","labelAngle":0,"labelPadding":3,"tickSize":4,"tickColor":"#333333","domain":false,"bandPosition":0.5,"grid":true,"gridColor":"#e6e6e6"}},
"xOffset":{"field":"x","type":"quantitative","scale":{"domain":[-0.5,0.5]}},
"y":{"field":"Treatment","type":"nominal","sort":["E2002A_E4001A_Ea273","E2002A_E4001A","E4001A_Ea273","E2002A_Ea273","E2002A","Ea273","E4001A","Control"],"scale":{"type":"band","paddingInner":0,"paddingOuter":0.1},
 "axis":{"title":"Treatment","titleFontSize":23,"titleFontWeight":"bold","titleColor":"black","titleBaseline":"alphabetic","titleAngle":-90,"titleX":-203,"titleY":280,"labelFontSize":16.5,"labelLimit":0,"labelColor":"#333333","labelPadding":4,"tickSize":4,"tickColor":"#333333","domain":false,"bandPosition":0.5,"grid":true,"gridColor":"#e6e6e6"}},
"yOffset":{"field":"y","type":"quantitative","scale":{"domain":[-0.5,0.5]}},
"color":{"field":"Cultivar","type":"nominal","scale":{"domain":["Empire","Gala","Golden Delicious"],"range":["#F8766D","#00BA38","#619CFF"]},
 "legend":{"orient":"none","legendX":407,"legendY":125,"title":"Cultivar","titleFontSize":15.5,"titleFontWeight":"normal","titleColor":"#333333","titlePadding":6,"labelFontSize":13.5,"labelColor":"#333333","symbolType":"M-1,-0.1L1,-0.1L1,0.1L-1,0.1Z M-0.3,0A0.3,0.3 0 1,1 0.3,0A0.3,0.3 0 1,1 -0.3,0Z","symbolSize":361,"symbolStrokeWidth":0,"rowPadding":12,"labelOffset":6}},
"size":{"field":"v","type":"quantitative","title":"Percent Lesion Length","scale":{"type":"pow","exponent":0.62,"domain":[0,100],"range":[9,227]},
 "legend":{"orient":"none","legendX":407,"legendY":267,"values":[0,25,50,75,100],"titleFontSize":15.5,"titleFontWeight":"normal","titleColor":"#333333","titlePadding":12,"labelFontSize":13.5,"labelColor":"#333333","symbolFillColor":"black","symbolStrokeColor":"black","symbolStrokeWidth":0,"rowPadding":12,"symbolOffset":3,"labelOffset":6}}
}
}
